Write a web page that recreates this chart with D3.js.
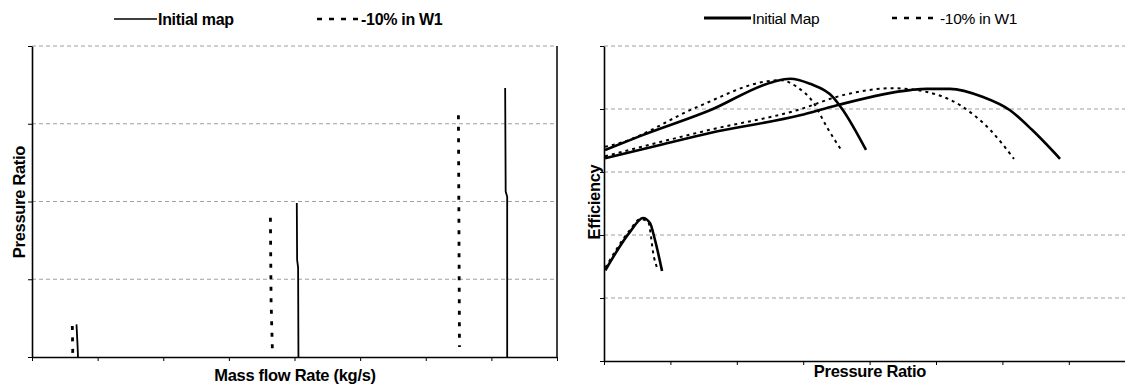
<!DOCTYPE html>
<html>
<head>
<meta charset="utf-8">
<script src="https://cdn.jsdelivr.net/npm/d3@7"></script>
<style>
body { margin: 0; background: #fff; }
text { font-family: "Liberation Sans", Arial, sans-serif; fill: #000; }
</style>
</head>
<body>
<div id="chart"></div>
<script>
var width = 1125,
    height = 385;

// left panel: pressure ratio vs mass flow, one line per speed
var flowInitial = [
    [[6.78, 1.42], [6.94, 1.15], [7.01, 1.0]],
    [[40.35, 2.98], [40.4, 2.25], [40.55, 2.15], [40.6, 1.0]],
    [[72.1, 4.46], [72.18, 3.13], [72.41, 3.06], [72.41, 1.0]]
];
var flowW1 = [
    [[6.14, 1.40], [6.22, 1.0]],
    [[36.33, 2.79], [36.43, 1.73], [36.63, 1.09]],
    [[64.98, 4.11], [65.14, 1.13]]
];

// right panel: efficiency vs pressure ratio
var effInitial = [
    [[1.01, 0.544], [1.196, 0.605], [1.294, 0.627], [1.346, 0.619], [1.384, 0.592], [1.437, 0.543]],
    [[1.008, 0.735], [1.271, 0.757], [1.798, 0.798], [2.273, 0.843], [2.401, 0.848], [2.551, 0.840],
     [2.724, 0.819], [2.80, 0.798], [2.973, 0.735]],
    [[1.008, 0.722], [1.422, 0.743], [1.798, 0.762], [2.476, 0.790], [2.755, 0.806], [3.304, 0.830],
     [3.432, 0.832], [3.605, 0.832], [3.854, 0.819], [4.057, 0.798], [4.223, 0.767], [4.434, 0.721]]
];
var effW1 = [
    [[1.01, 0.548], [1.196, 0.608], [1.271, 0.625], [1.331, 0.622], [1.376, 0.565], [1.407, 0.544]],
    [[1.008, 0.740], [1.12, 0.746], [1.70, 0.803], [2.227, 0.844], [2.325, 0.846], [2.453, 0.835],
     [2.574, 0.811], [2.679, 0.771], [2.792, 0.733]],
    [[1.008, 0.725], [1.798, 0.767], [2.453, 0.798], [2.80, 0.822], [3.176, 0.833], [3.432, 0.827],
     [3.681, 0.806], [3.907, 0.767], [4.087, 0.721]]
];

var flowTicks = [0, 10, 20, 30, 40, 50, 60, 70, 80];
var prTicks = [1, 2, 3, 4, 5];
var prAxisTicks = [1, 1.5, 2, 2.5, 3, 3.5, 4, 4.5, 5];
var effTicks = [0.4, 0.5, 0.6, 0.7, 0.8, 0.9];

var leftLegend = ["Initial map", "-10% in W1"];
var rightLegend = ["Initial Map", "-10% in W1"];

var svg = d3.select("#chart").append("svg")
    .attr("width", width)
    .attr("height", height);

var drawPanel = function(opt) {
    var g = svg.append("g");
    var x = opt.x, y = opt.y;
    var x0 = x.range()[0], x1 = x.range()[1];
    var y0 = y.range()[0], y1 = y.range()[1];

    // dashed gray grid
    g.selectAll(".grid")
        .data(opt.yTicks.filter(function(d) { return d !== y.domain()[0]; }))
        .enter().append("line")
        .attr("x1", x0).attr("x2", x1)
        .attr("y1", function(d) { return y(d); })
        .attr("y2", function(d) { return y(d); })
        .attr("stroke", "#a0a0a0")
        .attr("stroke-width", 1.2)
        .attr("stroke-dasharray", "4,3");

    if (opt.rightBorder) {
        g.append("line")
            .attr("x1", x1).attr("x2", x1)
            .attr("y1", y0).attr("y2", y1)
            .attr("stroke", "#000").attr("stroke-width", 1.5);
    }

    var xAxis = g.append("g")
        .attr("transform", "translate(0," + y0 + ")")
        .call(d3.axisBottom(x).tickValues(opt.xTicks).tickFormat("").tickSizeInner(4).tickSizeOuter(0));
    var yAxis = g.append("g")
        .attr("transform", "translate(" + x0 + ",0)")
        .call(d3.axisLeft(y).tickValues(opt.yTicks).tickFormat("").tickSizeInner(4).tickSizeOuter(0));
    [xAxis, yAxis].forEach(function(a) {
        a.select(".domain").attr("stroke", "#000").attr("stroke-width", 1.6);
        a.selectAll(".tick line").attr("stroke", "#000").attr("stroke-width", 1);
    });

    var line = d3.line()
        .x(function(d) { return x(d[0]); })
        .y(function(d) { return y(d[1]); })
        .curve(opt.curve);

    g.selectAll(".initial")
        .data(opt.initial)
        .enter().append("path")
        .attr("d", line)
        .attr("fill", "none")
        .attr("stroke", "#000")
        .attr("stroke-width", opt.solidWidth)
        .attr("stroke-linejoin", "round");

    g.selectAll(".w1")
        .data(opt.w1)
        .enter().append("path")
        .attr("d", line)
        .attr("fill", "none")
        .attr("stroke", "#000")
        .attr("stroke-width", opt.dashWidth)
        .attr("stroke-dasharray", opt.dash);

    // axis titles
    g.append("text")
        .attr("x", opt.xTitlePos[0]).attr("y", opt.xTitlePos[1])
        .attr("text-anchor", "middle")
        .style("font-size", "16.5px").style("font-weight", "bold")
        .style("letter-spacing", "-0.3px")
        .text(opt.xTitle);
    g.append("text")
        .attr("transform", "translate(" + opt.yTitlePos[0] + "," + opt.yTitlePos[1] + ") rotate(-90)")
        .attr("text-anchor", "middle")
        .style("font-size", "16.5px").style("font-weight", "bold")
        .style("letter-spacing", "-0.3px")
        .text(opt.yTitle);

    // legend
    var lg = g.append("g").attr("transform", "translate(" + opt.legendPos[0] + "," + opt.legendPos[1] + ")");
    lg.append("line").attr("x1", 0).attr("x2", opt.legendLen).attr("y1", 0).attr("y2", 0)
        .attr("stroke", "#000").attr("stroke-width", opt.legendSolid);
    lg.append("text").attr("x", opt.legendLen + 1).attr("y", 5.5)
        .style("font-size", opt.legendSize).style("font-weight", opt.legendWeight)
        .style("letter-spacing", "-0.3px")
        .text(opt.legend[0]);
    lg.append("line").attr("x1", opt.legendGap).attr("x2", opt.legendGap + opt.legendLen).attr("y1", 0).attr("y2", 0)
        .attr("stroke", "#000").attr("stroke-width", 2.5).attr("stroke-dasharray", "5,7");
    lg.append("text").attr("x", opt.legendGap + opt.legendLen + 1).attr("y", 5.5)
        .style("font-size", opt.legendSize).style("font-weight", opt.legendWeight)
        .style("letter-spacing", "-0.3px")
        .text(opt.legend[1]);
};

drawPanel({
    x: d3.scaleLinear().domain([0, 80]).range([32, 557]),
    y: d3.scaleLinear().domain([1, 5]).range([357, 46]),
    xTicks: flowTicks,
    yTicks: prTicks,
    initial: flowInitial,
    w1: flowW1,
    curve: d3.curveLinear,
    solidWidth: 1.8,
    dashWidth: 2.8,
    dash: "4,7.5",
    rightBorder: true,
    xTitle: "Mass flow Rate (kg/s)",
    yTitle: "Pressure Ratio",
    xTitlePos: [295, 381],
    yTitlePos: [25, 202],
    legend: leftLegend,
    legendPos: [114, 19],
    legendLen: 43,
    legendGap: 203,
    legendSolid: 1.5,
    legendWeight: "bold",
    legendSize: "16px"
});

drawPanel({
    x: d3.scaleLinear().domain([1, 5]).range([604, 1135.2]),
    y: d3.scaleLinear().domain([0.4, 0.9]).range([361, 46]),
    xTicks: prAxisTicks,
    yTicks: effTicks,
    initial: effInitial,
    w1: effW1,
    curve: d3.curveMonotoneX,
    solidWidth: 2.6,
    dashWidth: 2,
    dash: "3,4",
    rightBorder: false,
    xTitle: "Pressure Ratio",
    yTitle: "Efficiency",
    xTitlePos: [870, 377],
    yTitlePos: [600, 202],
    legend: rightLegend,
    legendPos: [704, 18],
    legendLen: 47,
    legendGap: 188,
    legendSolid: 3,
    legendWeight: "normal",
    legendSize: "15.5px"
});
</script>
</body>
</html>
